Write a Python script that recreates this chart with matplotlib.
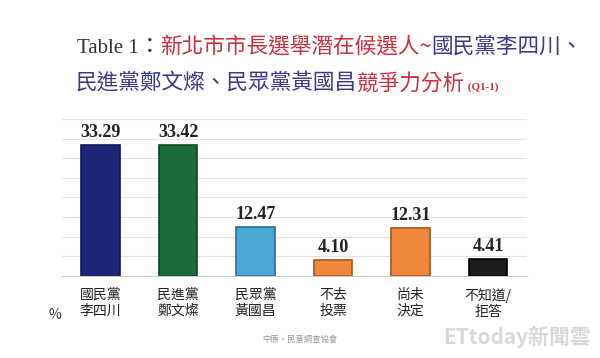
import matplotlib
matplotlib.use("Agg")
import matplotlib.pyplot as plt
import numpy as np

plt.rcParams['font.family'] = ['Noto Sans CJK TC', 'DejaVu Sans']

categories = ['國民黨\n李四川', '民進黨\n鄭文燦', '民眾黨\n黃國昌', '不去\n投票', '尚未\n決定', '不知道/\n拒答']
values = [33.29, 33.42, 12.47, 4.10, 12.31, 4.41]
bar_colors = ['#1e2678', '#1b6b3a', '#4ba6d6', '#f0883c', '#f0883c', '#1c1c1c']
edge_colors = ['#121850', '#0f4526', '#2a6f95', '#a8551c', '#a8551c', '#000000']

RED = '#c9303e'
BLUE = '#3b3a8a'
GRAY = '#333333'

fig = plt.figure(figsize=(6.0, 3.58), dpi=100)
ax = fig.add_axes([0.103, 0.229, 0.775, 0.439])

x = np.arange(len(values))
ax.set_axisbelow(True)
ax.yaxis.grid(True, color='#e2e2e2', linewidth=0.8)
ax.bar(x, values, width=0.5, color=bar_colors, edgecolor=edge_colors, linewidth=1.2)
for xi, v in zip(x, values):
    ax.text(xi, v + 1.0, f'{v:.2f}', ha='center', va='bottom', fontsize=13,
            fontweight='bold', family='Liberation Serif', color='#222222')

ax.set_xlim(-0.5, 5.5)
ax.set_ylim(0, 40)
ax.set_yticks(np.arange(0, 41, 5))
ax.tick_params(axis='y', left=False, labelleft=False)
ax.set_xticks(x)
ax.set_xticklabels(categories, fontsize=10, color='#222222', linespacing=1.2)
ax.tick_params(axis='x', bottom=False, pad=5)
for s in ['left', 'right', 'top']:
    ax.spines[s].set_visible(False)
ax.spines['bottom'].set_color('#cccccc')

fig.text(0.092, 0.11, '%', fontsize=10, color='#333333', ha='center')

# multi-coloured title, placed piece by piece
renderer = fig.canvas.get_renderer()


def title_line(pieces, x0, y0):
    xpos = x0
    for txt, color, kw in pieces:
        t = fig.text(xpos, y0, txt, color=color, va='baseline', **kw)
        bb = t.get_window_extent(renderer=renderer)
        xpos += bb.width / fig.bbox.width


cjk = dict(fontsize=15.6, family=['Noto Sans CJK TC', 'DejaVu Sans'])
title_line([
    ('Table 1', GRAY, dict(fontsize=15, family='Liberation Serif')),
    ('：', GRAY, cjk),
    ('新北市市長選舉潛在候選人~', RED, cjk),
    ('國民黨李四川、', BLUE, cjk),
], 0.128, 0.852)
title_line([
    ('民進黨鄭文燦、民眾黨黃國昌', BLUE, cjk),
    ('競爭力分析', RED, cjk),
    (' (Q1-1)', RED, dict(fontsize=8, fontweight='bold', family='Liberation Serif')),
], 0.126, 0.75)

fig.text(0.5, 0.045, '中原・民意調查協會', fontsize=6, color='#999999', ha='center')
fig.text(0.985, 0.04, 'ETtoday新聞雲', fontsize=15, color='#d8d8d8', ha='right',
         fontweight='bold')

fig.savefig('out.png', dpi=100, facecolor='white')
